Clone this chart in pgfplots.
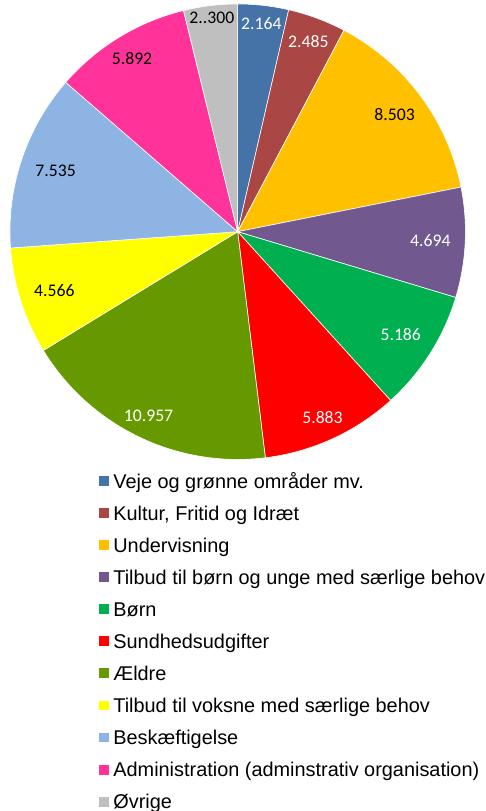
\documentclass[border=0pt]{standalone}
\usepackage{fontspec}
\setmainfont{Liberation Sans}
\newfontfamily\carlito{Carlito}
\usepackage{pgfplots}
\pgfplotsset{compat=1.18}

\definecolor{cVeje}{HTML}{4572A7}
\definecolor{cKultur}{HTML}{AA4643}
\definecolor{cUnder}{HTML}{FFC000}
\definecolor{cTilB}{HTML}{71588F}
\definecolor{cBorn}{HTML}{00B050}
\definecolor{cSund}{HTML}{FF0000}
\definecolor{cAeldre}{HTML}{669900}
\definecolor{cTilV}{HTML}{FFFF00}
\definecolor{cBesk}{HTML}{8EB4E3}
\definecolor{cAdm}{HTML}{FF3399}
\definecolor{cOvr}{HTML}{BFBFBF}

\newcommand\lblfont{\carlito\fontsize{17.8}{20}\selectfont}
\newcommand\legfont{\fontsize{20}{22}\selectfont}

% values (mio. kr.)
\pgfmathsetmacro\total{2.164+2.485+8.503+4.694+5.186+5.883+10.957+4.566+7.535+5.892+2.300}
\def\cx{239}\def\cy{578}\def\pr{229}
\xdef\cum{90}

% #1 value, #2 colour, #3 legend text, #4 label radius, #5 label colour, #6 label text
\newcommand\pieslice[6]{%
  \pgfmathsetmacro\angA{\cum}%
  \pgfmathsetmacro\angB{\cum-#1*360/\total}%
  \pgfmathsetmacro\angM{(\angA+\angB)/2}%
  \pgfmathsetmacro\lx{\cx+#4*cos(\angM)}%
  \pgfmathsetmacro\ly{\cy+#4*sin(\angM)}%
  \edef\doit{%
    \noexpand\addplot[fill=#2, draw=white, line width=0.6pt, domain=\angB:\angA, samples=80]
      ({\cx+\pr*cos(x)},{\cy+\pr*sin(x)}) -- (axis cs:\cx,\cy) -- cycle;
    \noexpand\addlegendentry{#3}
    \noexpand\node[text=#5, font=\noexpand\lblfont, inner sep=0pt] at (axis cs:\lx,\ly) {#6};
  }%
  \doit
  \xdef\cum{\angB}%
}

\begin{document}
\begin{tikzpicture}
\begin{axis}[
  scale only axis, width=486pt, height=811pt,
  xmin=0, xmax=486, ymin=0, ymax=811,
  hide axis, clip=false,
  legend cell align=left,
  legend image code/.code={\fill[#1, draw=none] (0pt,-5pt) rectangle (10pt,5pt);},
  legend style={at={(axis cs:99.5,336.5)}, anchor=north west, draw=none, fill=none,
    inner sep=0pt, outer sep=0pt, row sep=13.2pt, font=\legfont,
    nodes={inner sep=0pt, text height=16.5pt, text depth=2.5pt},
    /tikz/every odd column/.style={column sep=4.5pt}},
]
\pieslice{2.164}{cVeje}{Veje og grønne områder mv.}{211}{white}{2.164}
\pieslice{2.485}{cKultur}{Kultur, Fritid og Idræt}{204}{white}{2.485}
\pieslice{8.503}{cUnder}{Undervisning}{197}{black}{8.503}
\pieslice{4.694}{cTilB}{Tilbud til børn og unge med særlige behov}{194}{white}{4.694}
\pieslice{5.186}{cBorn}{Børn}{194}{white}{5.186}
\pieslice{5.883}{cSund}{Sundhedsudgifter}{205}{white}{5.883}
\pieslice{10.957}{cAeldre}{Ældre}{206}{white}{10.957}
\pieslice{4.566}{cTilV}{Tilbud til voksne med særlige behov}{193.5}{black}{4.566}
\pieslice{7.535}{cBesk}{Beskæftigelse}{193}{black}{7.535}
\pieslice{5.892}{cAdm}{Administration (adminstrativ organisation)}{204}{black}{5.892}
\pieslice{2.300}{cOvr}{Øvrige}{216.6}{black}{2..300}
\path (axis cs:0,0) rectangle (axis cs:486,811);
\end{axis}
\end{tikzpicture}
\end{document}
